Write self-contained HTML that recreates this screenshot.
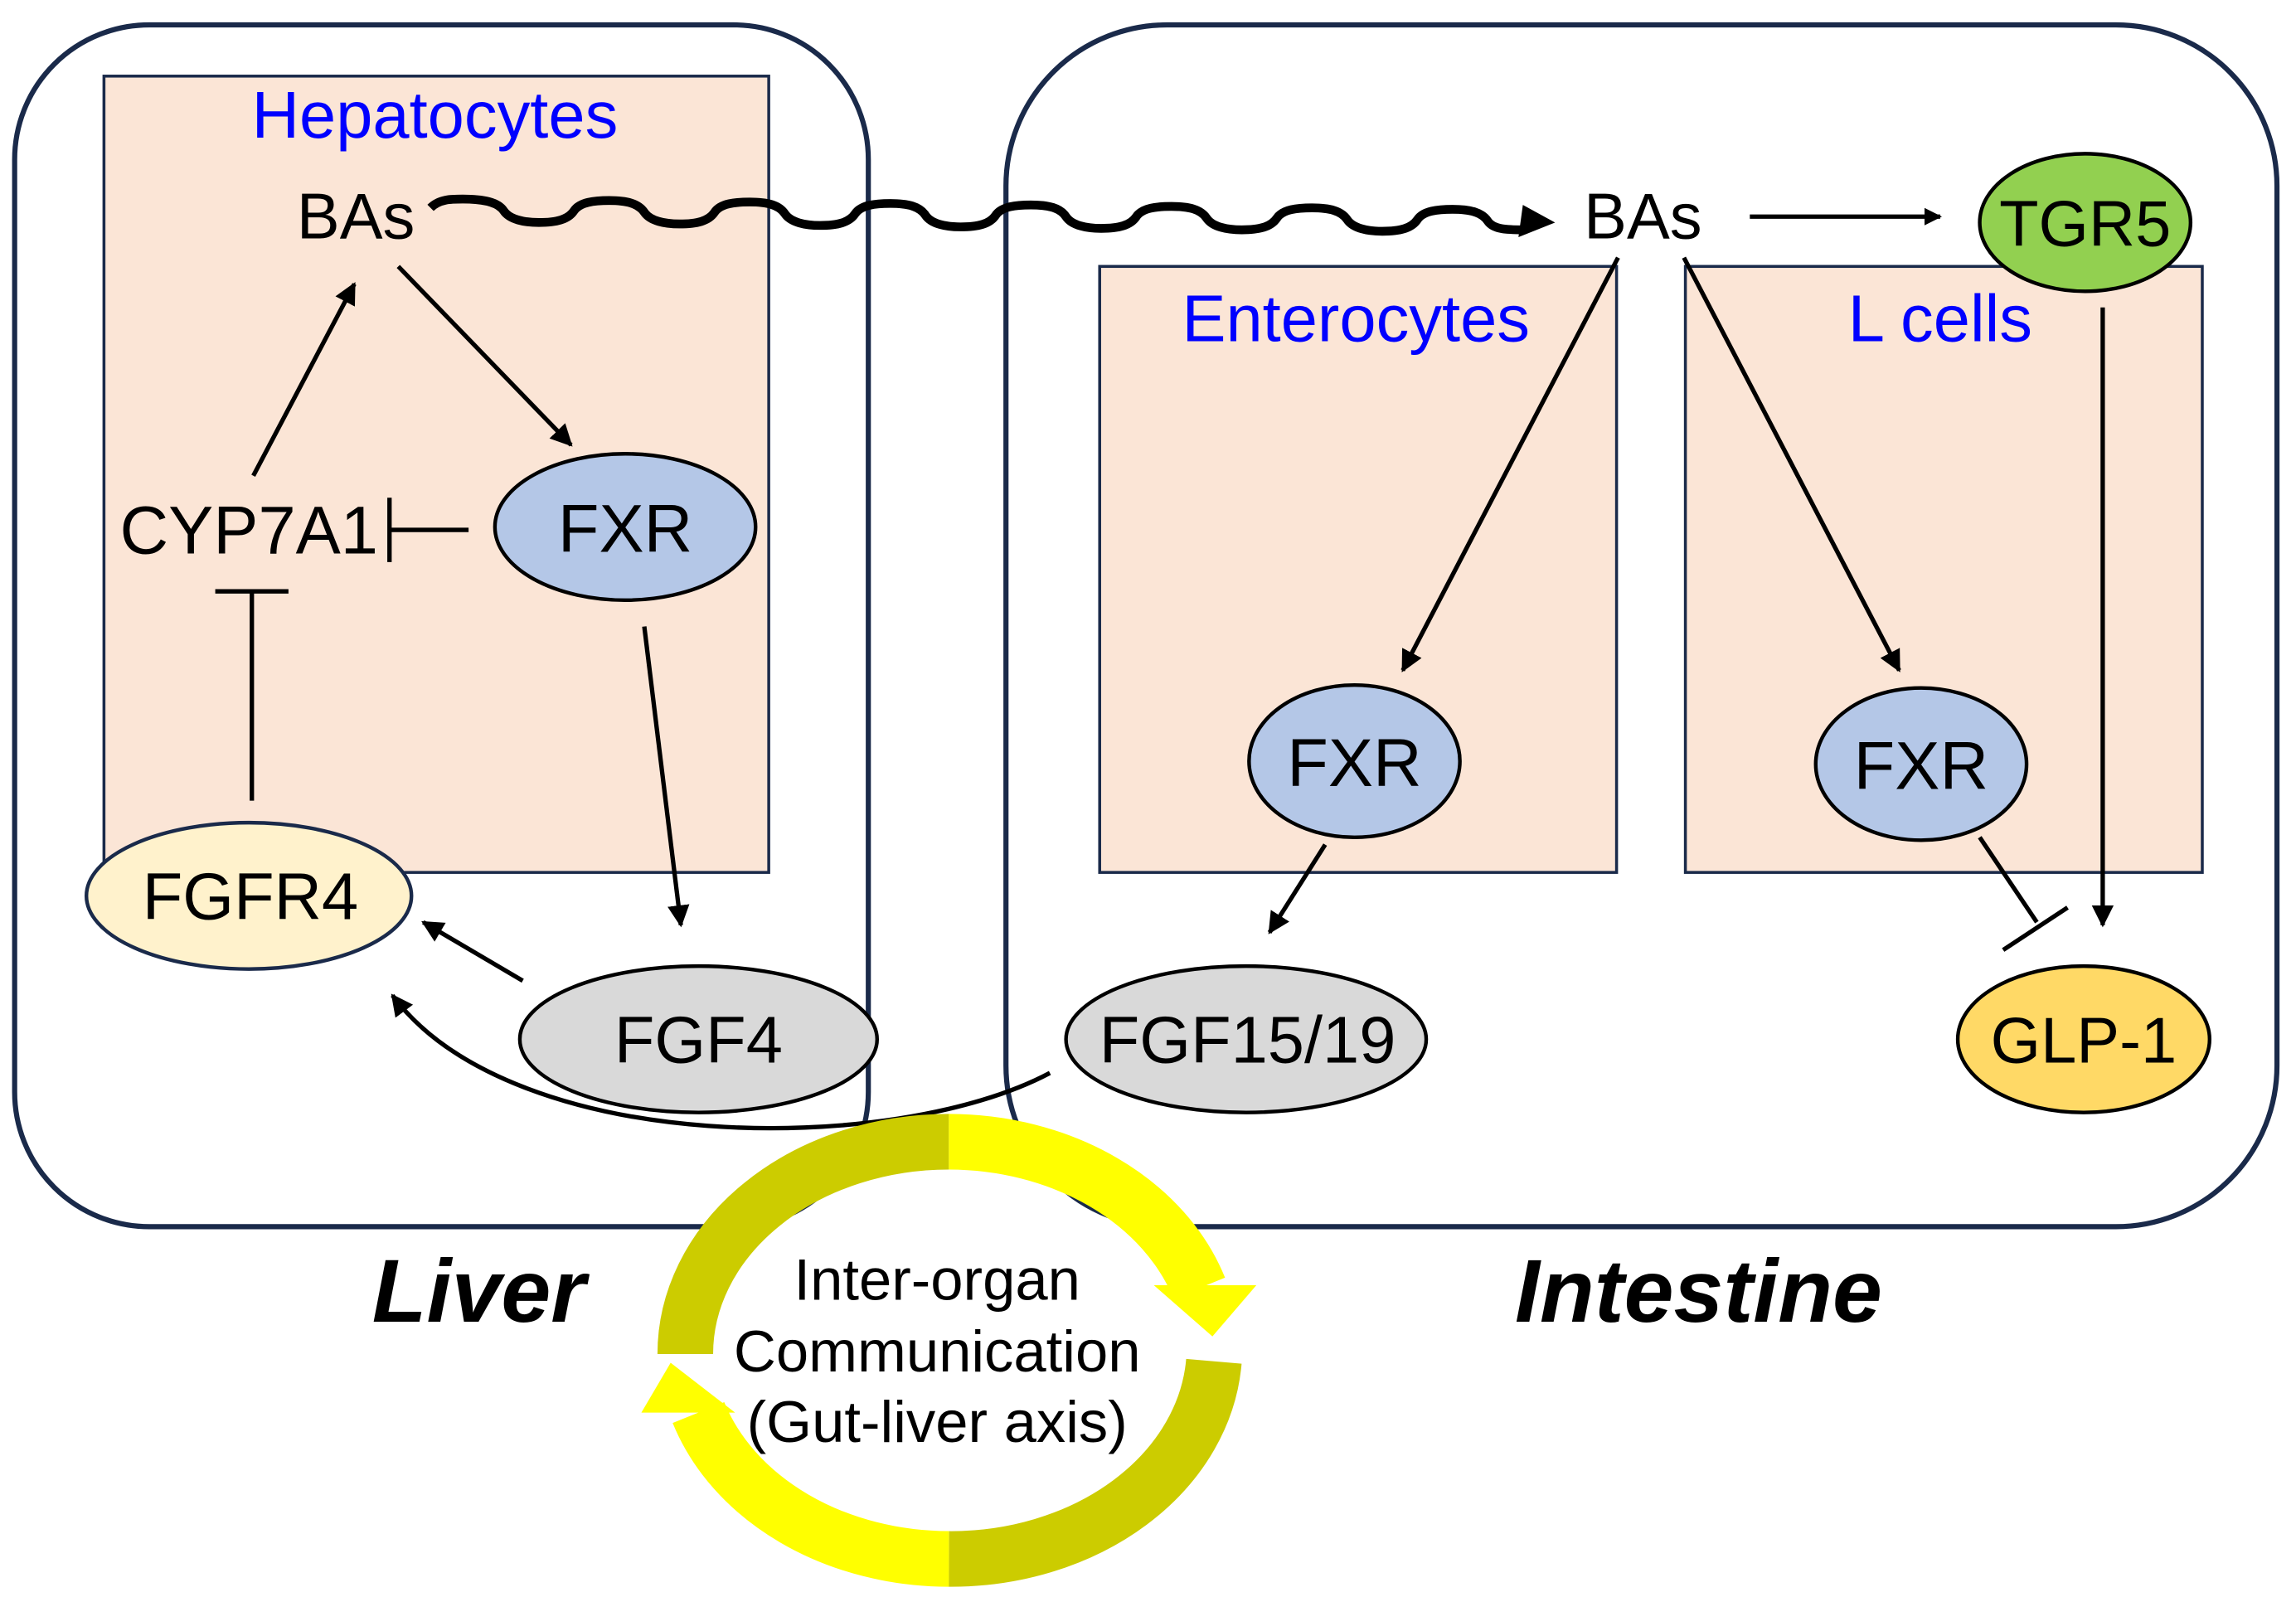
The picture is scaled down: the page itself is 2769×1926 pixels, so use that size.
<!DOCTYPE html>
<html><head><meta charset="utf-8"><style>
html,body{margin:0;padding:0;background:#fff;}
svg{display:block;}
text{font-family:"Liberation Sans",Arial,sans-serif;}
</style></head><body>
<svg width="2769" height="1926" viewBox="0 0 1568 1091" preserveAspectRatio="none" xmlns="http://www.w3.org/2000/svg">
<defs>
<marker id="ah" viewBox="0 0 10 10" refX="9" refY="5" markerWidth="5" markerHeight="5" orient="auto" markerUnits="strokeWidth"><path d="M0,0 L10,5 L0,10 z" fill="#000"/></marker>
<marker id="ah2" viewBox="0 0 10 10" refX="9" refY="5" markerWidth="4" markerHeight="4" orient="auto" markerUnits="strokeWidth"><path d="M0,0 L10,5 L0,10 z" fill="#000"/></marker>
</defs>
<rect x="10" y="17" width="583" height="821" rx="92" fill="none" stroke="#1a2a4a" stroke-width="3.5"/>
<rect x="687" y="17" width="868" height="821" rx="110" fill="none" stroke="#1a2a4a" stroke-width="3.5"/>
<rect x="71" y="52" width="454" height="544" fill="#fbe5d6" stroke="#1a2a4a" stroke-width="2"/>
<rect x="751" y="182" width="353" height="414" fill="#fbe5d6" stroke="#1a2a4a" stroke-width="2"/>
<rect x="1151" y="182" width="353" height="414" fill="#fbe5d6" stroke="#1a2a4a" stroke-width="2"/>

<text x="297" y="94" font-size="45" fill="#0000ff" text-anchor="middle">Hepatocytes</text>
<text x="926" y="233" font-size="45" fill="#0000ff" text-anchor="middle">Enterocytes</text>
<text x="1325" y="233" font-size="45" fill="#0000ff" text-anchor="middle">L cells</text>

<text x="243" y="163" font-size="44" text-anchor="middle">BAs</text>
<text x="1122" y="163" font-size="44" text-anchor="middle">BAs</text>
<text x="170" y="378" font-size="46" text-anchor="middle">CYP7A1</text>

<ellipse cx="427" cy="360" rx="89" ry="50" fill="#b4c7e7" stroke="#000" stroke-width="2.5"/>
<text x="427" y="377" font-size="46" text-anchor="middle">FXR</text>
<ellipse cx="170" cy="612" rx="111" ry="50" fill="#fff2cc" stroke="#1a2a4a" stroke-width="2.5"/>
<text x="171" y="628" font-size="45" text-anchor="middle">FGFR4</text>
<ellipse cx="477" cy="710" rx="122" ry="50" fill="#d9d9d9" stroke="#000" stroke-width="2.5"/>
<text x="477" y="726" font-size="45" text-anchor="middle">FGF4</text>
<ellipse cx="851" cy="710" rx="123" ry="50" fill="#d9d9d9" stroke="#000" stroke-width="2.5"/>
<text x="852" y="726" font-size="45" text-anchor="middle">FGF15/19</text>
<ellipse cx="925" cy="520" rx="72" ry="52" fill="#b4c7e7" stroke="#000" stroke-width="2.5"/>
<text x="925" y="537" font-size="46" text-anchor="middle">FXR</text>
<ellipse cx="1312" cy="522" rx="72" ry="52" fill="#b4c7e7" stroke="#000" stroke-width="2.5"/>
<text x="1312" y="539" font-size="46" text-anchor="middle">FXR</text>
<ellipse cx="1424" cy="152" rx="72" ry="47" fill="#92d050" stroke="#000" stroke-width="2.5"/>
<text x="1424" y="168" font-size="44" text-anchor="middle">TGR5</text>
<ellipse cx="1423" cy="710" rx="86" ry="50" fill="#ffd966" stroke="#000" stroke-width="2.5"/>
<text x="1423" y="726" font-size="44" text-anchor="middle">GLP-1</text>

<g stroke="#000" stroke-width="3" fill="none">
<line x1="173" y1="325" x2="242" y2="194" marker-end="url(#ah)"/>
<line x1="272" y1="182" x2="390" y2="304" marker-end="url(#ah)"/>
<line x1="320" y1="362" x2="266" y2="362"/>
<line x1="266" y1="340" x2="266" y2="384"/>
<line x1="440" y1="428" x2="465" y2="632" marker-end="url(#ah)"/>
<line x1="172" y1="547" x2="172" y2="404"/>
<line x1="147" y1="404" x2="197" y2="404"/>
<line x1="357" y1="670" x2="289" y2="630" marker-end="url(#ah)"/>
<path d="M717,733 C610,790 350,790 268,680" marker-end="url(#ah)"/>
<line x1="1195" y1="148" x2="1325" y2="148" marker-end="url(#ah2)"/>
<line x1="1105" y1="176" x2="958" y2="458" marker-end="url(#ah)"/>
<line x1="1150" y1="176" x2="1297" y2="458" marker-end="url(#ah)"/>
<line x1="905" y1="577" x2="867" y2="637" marker-end="url(#ah)"/>
<line x1="1352" y1="572" x2="1391" y2="630"/>
<line x1="1368" y1="649" x2="1412" y2="620"/>
<line x1="1436" y1="210" x2="1436" y2="632" marker-end="url(#ah)"/>
</g>
<!-- wavy arrow: sine-like -->
<path d="M294,142 c6,-6 14,-6 22,-6 c14,0 24,2 28,8 c4,6 14,8 24,8 c12,0 20,-2 24,-8 c4,-6 14,-7 24,-7 c12,0 20,2 24,8 c4,6 14,8 24,8 c12,0 20,-2 24,-8 c4,-6 14,-7 24,-7 c12,0 20,2 24,8 c4,6 14,8 24,8 c12,0 20,-2 24,-8 c4,-6 14,-7 24,-7 c12,0 20,2 24,8 c4,6 14,8 24,8 c12,0 20,-2 24,-8 c4,-6 14,-7 24,-7 c12,0 20,2 24,8 c4,6 14,8 24,8 c12,0 20,-2 24,-8 c4,-6 14,-7 24,-7 c12,0 20,2 24,8 c4,6 14,8 24,8 c12,0 20,-2 24,-8 c4,-6 14,-7 24,-7 c12,0 20,2 24,8 c4,6 14,8 24,8 c12,0 20,-2 24,-8 c4,-6 14,-7 24,-7 c12,0 20,2 24,8 c4,6 14,6 24,6" fill="none" stroke="#000" stroke-width="6"/>
<path d="M1040,140 L1062,152 L1037,162 z" fill="#000"/>

<g fill="none" stroke-width="38">
<path d="M468,925 A180,145 0 0 1 648,780" stroke="#cccc00"/>
<path d="M648,780 A180,145 0 0 1 819,880" stroke="#ffff00"/>
<path d="M829,930 A180,145 0 0 1 648,1065" stroke="#cccc00"/>
<path d="M648,1065 A180,145 0 0 1 477,965" stroke="#ffff00"/>
</g>
<path d="M788,878 L858,878 L828,913 z" fill="#ffff00"/>
<path d="M438,965 L502,965 L458,931 z" fill="#ffff00"/>
<text x="640" y="888" font-size="40" text-anchor="middle">Inter-organ</text>
<text x="640" y="937" font-size="40" text-anchor="middle">Communication</text>
<text x="640" y="985" font-size="40" text-anchor="middle">(Gut-liver axis)</text>

<text x="327" y="903" font-size="61" font-weight="bold" font-style="italic" text-anchor="middle">Liver</text>
<text x="1160" y="903" font-size="61" font-weight="bold" font-style="italic" text-anchor="middle">Intestine</text>
</svg>
</body></html>
